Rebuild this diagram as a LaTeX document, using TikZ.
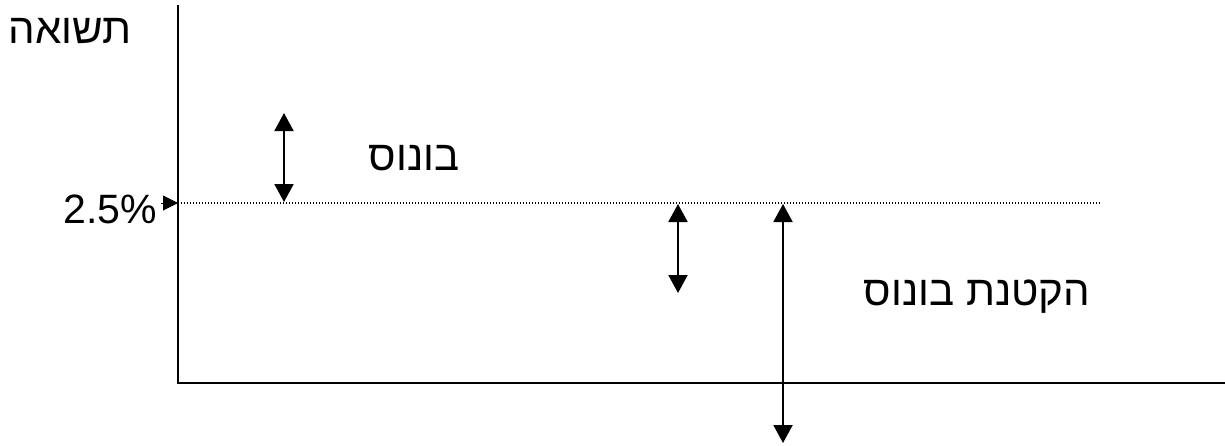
\documentclass[tikz,border=0pt]{standalone}
\usepackage{fontspec}
\setmainfont{Liberation Sans}
\newfontfamily\hebfont[Script=Hebrew]{Liberation Sans}
\TeXXeTstate=1
\usetikzlibrary{arrows.meta,positioning}

\begin{document}
\begin{tikzpicture}[x=1pt, y=-1pt,
  axis/.style={line width=2pt},
  level/.style={line width=1.3pt, dash pattern=on 1.3pt off 1.7pt},
  gap/.style={line width=2pt, {Triangle[width=19pt,length=18pt]}-{Triangle[width=19pt,length=18pt]}},
  lbl/.style={font=\fontsize{41}{41}\selectfont, inner sep=0pt},
  heb/.style={font=\fontsize{42}{42}\selectfont\hebfont, inner sep=0pt}]
\useasboundingbox (0,0) rectangle (1225,445);
% axes
\coordinate (ytop) at (178,5);
\coordinate (o) at (178,383);
\coordinate (xend) at (1225,383);
\draw[axis] (ytop) -- (o) -- (xend);
% level line
\coordinate (lvl) at (178,203);
\coordinate (lvlend) at (1100,203);
\draw[level] (lvl) -- (lvlend);
% labels
\node[heb, anchor=base] (ret) at (70,43) {\beginR תשואה\endR};
\node[lbl, anchor=base east] (pct) at (157,223) {2.5\%};
\draw[line width=1pt, -{Triangle[width=15pt,length=15pt]}] (pct.east |- lvl) ++(4,0) coordinate (pa) -- (lvl);
\node[heb, anchor=base] (bonus) at (414,170) {\beginR בונוס\endR};
\node[heb, anchor=base] (cut) at (977,305) {\beginR הקטנת בונוס\endR};
% gaps
\coordinate (a1) at (284,113);
\coordinate (a2) at (284,202);
\coordinate (b1) at (678,204);
\coordinate (b2) at (678,293);
\coordinate (c1) at (783,204);
\coordinate (c2) at (783,443);
\draw[gap] (a1) -- (a2);
\draw[gap] (b1) -- (b2);
\draw[gap] (c1) -- (c2);
\end{tikzpicture}
\end{document}
